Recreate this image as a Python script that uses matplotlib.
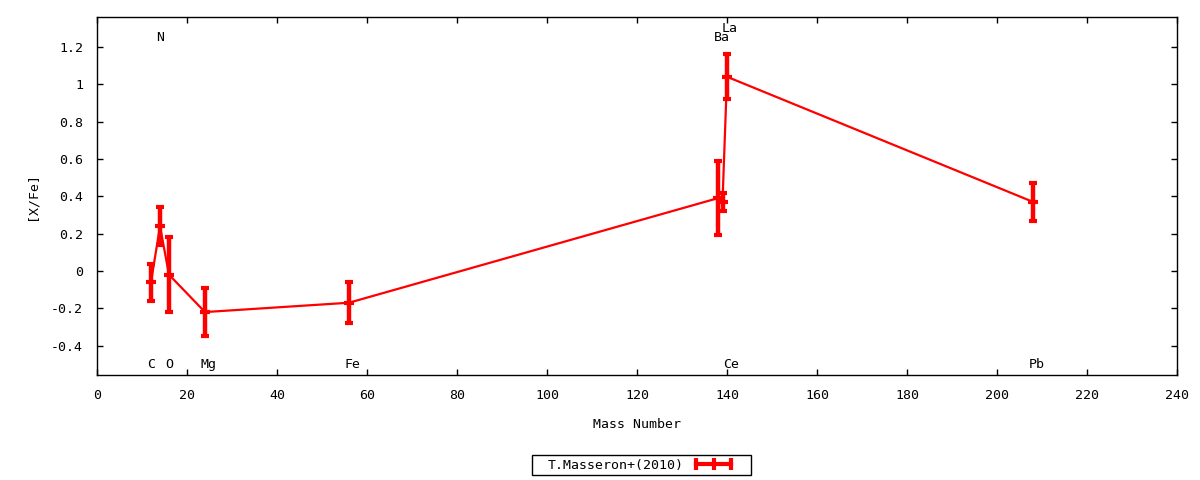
import matplotlib
matplotlib.use("Agg")
import matplotlib.pyplot as plt
from matplotlib.lines import Line2D
from matplotlib.patches import Rectangle

# Data
elements = ["C", "N", "O", "Mg", "Fe", "Ba", "La", "Ce", "Pb"]
mass = [12, 14, 16, 24, 56, 138, 139, 140, 208]
xfe = [-0.06, 0.24, -0.02, -0.22, -0.17, 0.39, 0.37, 1.04, 0.37]
err = [0.10, 0.10, 0.20, 0.13, 0.11, 0.20, 0.05, 0.12, 0.10]

label_names = ["C", "N", "O", "Mg", "Fe", "Ba", "La", "Ce", "Pb"]
label_mass = [12, 14, 16, 24, 56, 138, 139.6, 140, 208]
label_y = [-0.5, 1.25, -0.5, -0.5, -0.5, 1.25, 1.30, -0.5, -0.5]

xticks = list(range(0, 241, 20))
yticks = [-0.4, -0.2, 0, 0.2, 0.4, 0.6, 0.8, 1.0, 1.2]
ytick_labels = ["-0.4", "-0.2", "0", "0.2", "0.4", "0.6", "0.8", "1", "1.2"]
series_name = "T.Masseron+(2010)"

plt.rcParams['font.family'] = ['DejaVu Sans Mono']
plt.rcParams['axes.unicode_minus'] = False
FS = 9.5

W, H = 1200, 480
fig = plt.figure(figsize=(12, 4.8), dpi=100)
ax = fig.add_axes([97/W, 1-375/H, 1080/W, 358/H])

ax.errorbar(mass, xfe, yerr=err, color='red', lw=1.6, elinewidth=3.2,
            capsize=3.2, capthick=2.8, marker='_', ms=6.5, mew=3, zorder=3)

for name, m, y in zip(label_names, label_mass, label_y):
    ax.text(m - 0.9, y, name, ha='left', va='center', fontsize=FS, color='black')

ax.set_xlim(0, 240)
ax.set_ylim(-0.557, 1.36)
ax.set_xticks(xticks)
ax.set_xticklabels([str(t) for t in xticks])
ax.set_yticks(yticks)
ax.set_yticklabels(ytick_labels)
ax.tick_params(direction='in', length=4, width=1, top=True, right=True,
               labelsize=FS, color='black')
ax.tick_params(axis='x', pad=10)
ax.tick_params(axis='y', pad=10)
for s in ax.spines.values():
    s.set_linewidth(1)
    s.set_color('black')

ax.set_xlabel("Mass Number", fontsize=FS)
ax.set_ylabel("[X/Fe]", fontsize=FS)
ax.xaxis.set_label_coords((637-97)/1080, (375-425)/358)
ax.yaxis.set_label_coords((32-97)/1080, (375-196)/358)
ax.xaxis.label.set_va('center')
ax.yaxis.label.set_va('center')

handle = Line2D([], [], color='red', lw=3, marker='|', ms=8, mew=3)
leg = fig.legend([handle], [series_name], loc='center',
                 bbox_to_anchor=(641/W, 1-465/H), numpoints=3,
                 markerfirst=False, frameon=False, fontsize=FS,
                 handlelength=3.2, borderpad=0.0, handletextpad=0.7,
                 borderaxespad=0)
fig.add_artist(Rectangle((532/W, 1-475/H), (751-532)/W, 20/H,
                         transform=fig.transFigure, fill=False,
                         edgecolor='black', linewidth=1))

fig.savefig("out.png", dpi=100)
